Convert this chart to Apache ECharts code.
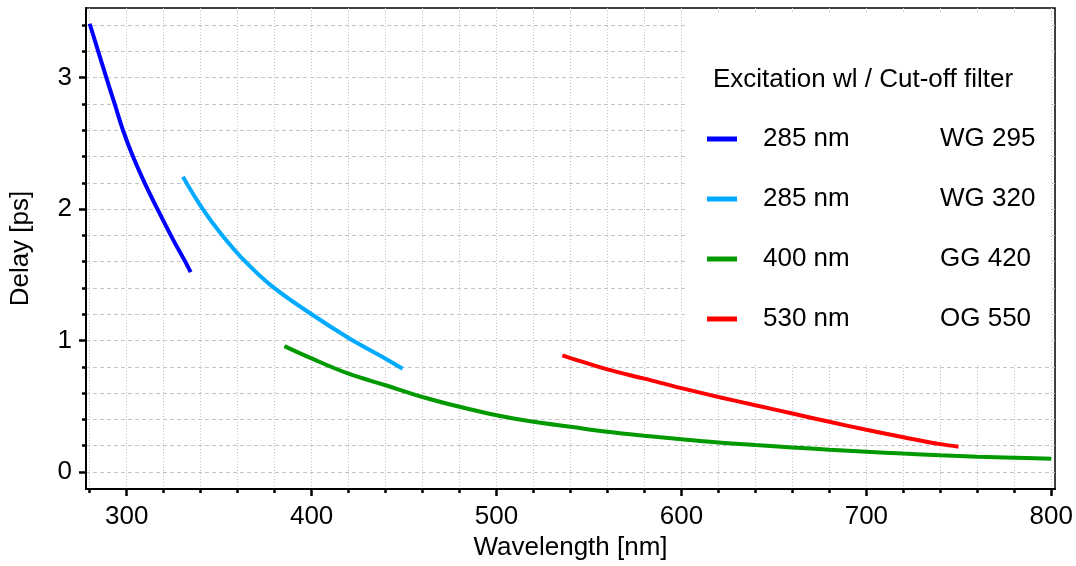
<!DOCTYPE html>
<html>
<head>
<meta charset="utf-8">
<script src="https://cdn.jsdelivr.net/npm/echarts@6/dist/echarts.min.js"></script>
<style>html,body{margin:0;padding:0;background:#fff;}#c{width:1076px;height:566px;}</style>
</head>
<body>
<div id="c"></div>
<script>
// ---- data ----
var excitation = ['285 nm', '285 nm', '400 nm', '530 nm'];
var filters = ['WG 295', 'WG 320', 'GG 420', 'OG 550'];
var colors = ['#0000ff', '#00aaff', '#009900', '#ff0000'];

var blueWG295 = [[280, 3.41], [289, 3.0], [293.5, 2.8], [298, 2.6], [303.4, 2.4], [309.7, 2.2], [317, 1.99], [325, 1.77], [331.3, 1.61], [334.6, 1.52]];
var cyanWG320 = [[330.4, 2.247], [340.7, 2.01], [351.1, 1.81], [362.8, 1.62], [378, 1.42], [400, 1.2], [420, 1.02], [440, 0.862], [449.2, 0.786]];
var greenGG420 = [[385.3, 0.958], [400, 0.864], [420, 0.748], [440, 0.66], [460, 0.571], [480, 0.496], [500, 0.432], [520, 0.382], [540, 0.344], [560, 0.306], [580, 0.276], [600, 0.25], [620, 0.225], [640, 0.205], [660, 0.187], [680, 0.17], [700, 0.155], [720, 0.14], [740, 0.127], [760, 0.117], [780, 0.109], [800, 0.101]];
var redOG550 = [[535.6, 0.887], [540, 0.867], [560, 0.781], [580, 0.71], [600, 0.638], [620, 0.571], [640, 0.508], [660, 0.445], [680, 0.382], [700, 0.321], [720, 0.264], [740, 0.212], [749.8, 0.193]];

var xMajorTicks = [300, 400, 500, 600, 700, 800];
var xMinorTicks = [280, 300, 320, 340, 360, 380, 400, 420, 440, 460, 480, 500, 520, 540, 560, 580, 600, 620, 640, 660, 680, 700, 720, 740, 760, 780, 800];
var yMajorTicks = [0, 1, 2, 3];
var yMinorTicks = [0, 0.2, 0.4, 0.6, 0.8, 1, 1.2, 1.4, 1.6, 1.8, 2, 2.2, 2.4, 2.6, 2.8, 3, 3.2, 3.4];

var seriesData = [blueWG295, cyanWG320, greenGG420, redOG550];
var xRange = [278, 802];
var yRange = [-0.13, 3.53];

var FONT = '"Liberation Sans", Arial, sans-serif';
var chart = echarts.init(document.getElementById('c'), null, {renderer: 'canvas'});

var names = excitation.map(function (e, i) { return e + '|' + filters[i]; });

var series = seriesData.map(function (d, i) {
  return {
    name: names[i],
    type: 'line',
    data: d,
    xAxisIndex: 0,
    yAxisIndex: 0,
    showSymbol: false,
    symbol: 'none',
    smooth: 0.4,
    lineStyle: {color: colors[i], width: 4, cap: 'butt'},
    itemStyle: {color: colors[i]},
    z: 3
  };
});

var option = {
  backgroundColor: '#fff',
  animation: false,
  textStyle: {fontFamily: FONT},
  grid: {left: 85, top: 8, right: 20, bottom: 75, show: true, borderColor: '#000', borderWidth: 1.5, backgroundColor: 'transparent'},
  title: {
    text: 'Excitation wl / Cut-off filter',
    left: 713, top: 67, padding: 0,
    textStyle: {fontSize: 26, fontWeight: 'normal', color: '#000', fontFamily: FONT}
  },
  legend: {
    orient: 'vertical',
    left: 685, top: 12,
    backgroundColor: '#fff',
    padding: [114, 14, 31, 22],
    itemWidth: 30, itemHeight: 5,
    icon: 'rect',
    itemGap: 34,
    data: names,
    formatter: function (n) {
      var p = n.split('|');
      return '{a|' + p[0] + '}{b|' + p[1] + '}';
    },
    textStyle: {
      color: '#000', fontSize: 26, fontFamily: FONT,
      rich: {
        a: {width: 177, padding: [0, 0, 0, 21], fontSize: 26, color: '#000', fontFamily: FONT},
        b: {width: 97, fontSize: 26, color: '#000', fontFamily: FONT}
      }
    }
  },
  xAxis: [
    {
      type: 'value', min: xRange[0], max: xRange[1], position: 'bottom',
      name: 'Wavelength [nm]', nameLocation: 'middle', nameGap: 45,
      nameTextStyle: {fontSize: 26, color: '#000', fontFamily: FONT},
      axisLine: {show: true, onZero: false, lineStyle: {color: '#000', width: 2}},
      axisTick: {show: true, customValues: xMajorTicks, length: 7, lineStyle: {color: '#000', width: 2.5}},
      axisLabel: {show: true, customValues: xMajorTicks, margin: 15, fontSize: 26, color: '#000', fontFamily: FONT},
      splitLine: {show: false}
    },
    {
      type: 'value', min: xRange[0], max: xRange[1], position: 'bottom',
      axisLine: {show: false, onZero: false},
      axisTick: {show: true, customValues: xMinorTicks, length: 4, lineStyle: {color: '#000', width: 2.5}},
      axisLabel: {show: false},
      splitLine: {show: true, lineStyle: {color: '#c4c4c4', width: 1, type: [1, 2]}}
    }
  ],
  yAxis: [
    {
      type: 'value', min: yRange[0], max: yRange[1], position: 'left',
      name: 'Delay [ps]', nameLocation: 'middle', nameGap: 52,
      nameTextStyle: {fontSize: 26, color: '#000', fontFamily: FONT},
      axisLine: {show: true, onZero: false, lineStyle: {color: '#000', width: 2}},
      axisTick: {show: true, customValues: yMajorTicks, length: 7, lineStyle: {color: '#000', width: 2.5}},
      axisLabel: {show: true, customValues: yMajorTicks, margin: 14, fontSize: 26, color: '#000', fontFamily: FONT},
      splitLine: {show: false}
    },
    {
      type: 'value', min: yRange[0], max: yRange[1], position: 'left',
      axisLine: {show: false, onZero: false},
      axisTick: {show: true, customValues: yMinorTicks, length: 4, lineStyle: {color: '#000', width: 2.5}},
      axisLabel: {show: false},
      splitLine: {show: true, lineStyle: {color: '#c4c4c4', width: 1, type: [4, 3]}}
    }
  ],
  series: series
};
chart.setOption(option);
</script>
</body>
</html>
